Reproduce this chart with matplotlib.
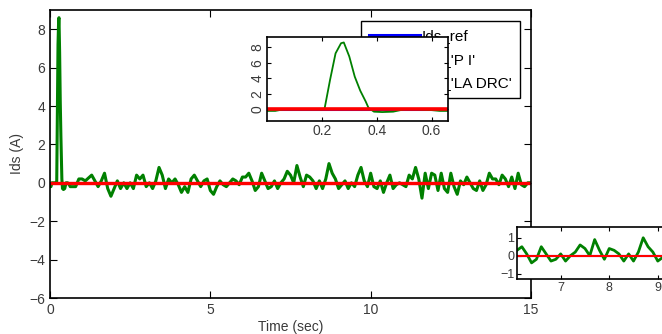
import numpy as np
import matplotlib.pyplot as plt

plt.rcParams['font.family'] = ['Liberation Sans', 'DejaVu Sans']
plt.rcParams['font.size'] = 10

# start-up transient (first 0.7 s)
t_start = [0.0, 0.03, 0.06, 0.1, 0.15, 0.2, 0.21, 0.23, 0.25, 0.27, 0.28,
           0.3, 0.32, 0.34, 0.36, 0.37, 0.39, 0.42, 0.46, 0.5, 0.55, 0.6,
           0.63, 0.66, 0.7]
pi_start = [-0.2, -0.2, 0.0, 0.0, 0.0, 0.0, 0.1, 3.8, 7.2, 8.5, 8.6,
            6.8, 4.2, 2.4, 1.0, 0.2, -0.3, -0.35, -0.3, 0.0, 0.0, -0.1,
            -0.2, -0.2, -0.2]

# PI current after the transient, every 0.1 s from 0.8 s to 15 s
pi_noise = [
    -0.2, 0.2, 0.2, 0.1, 0.25, 0.4, 0.1, -0.2, 0.1, 0.5,
    -0.3, -0.7, -0.3, 0.1, -0.3, 0.0, -0.3, 0.0, -0.3, 0.4,
    0.2, 0.4, -0.2, 0.0, -0.3, 0.1, 0.8, 0.4, -0.3, 0.2,
    0.0, 0.2, -0.1, -0.5, -0.2, -0.5, 0.2, 0.4, 0.1, -0.2,
    0.1, 0.2, -0.4, -0.6, -0.2, 0.1, -0.1, -0.2, 0.0, 0.2,
    0.1, -0.1, 0.3, 0.3, 0.5, 0.1, -0.4, -0.2, 0.5, 0.1,
    -0.3, -0.2, 0.1, -0.3, 0.0, 0.2, 0.6, 0.4, 0.0, 0.9,
    0.3, -0.2, 0.4, 0.3, 0.1, -0.3, 0.1, -0.3, 0.2, 1.0,
    0.5, 0.2, -0.3, -0.1, 0.1, -0.3, 0.0, -0.2, 0.4, 0.8,
    0.1, -0.2, 0.5, -0.2, -0.3, 0.1, -0.5, 0.0, 0.4, -0.3,
    -0.1, 0.0, -0.1, -0.2, 0.4, 0.2, 0.8, 0.2, -0.8, 0.5,
    -0.3, 0.5, 0.4, -0.4, 0.5, -0.3, -0.5, 0.5, -0.2, -0.6,
    0.1, -0.1, 0.3, 0.0, -0.3, -0.4, 0.1, -0.4, -0.1, 0.5,
    0.2, 0.2, -0.1, 0.4, 0.2, -0.2, 0.3, -0.3, 0.5, -0.1,
    -0.2, 0.0, 0.0,
]
t_noise = np.round(np.arange(len(pi_noise)) * 0.1 + 0.8, 2)

t = np.concatenate([t_start, t_noise])
i_pi = np.concatenate([pi_start, pi_noise])
i_ref = np.zeros_like(t)
i_ladrc = np.zeros_like(t)

labels = ["Ids_ref", "Ids_'P I'", "Ids_'LA DRC'"]
c_ref, c_pi, c_ladrc = '#0000ff', '#008000', '#ff0000'
txt = '#3a3a3a'

fig = plt.figure(figsize=(6.62, 3.34), dpi=100)
ax = fig.add_axes([50/662, 1-298/334, 481/662, 288/334])
l1, = ax.plot(t, i_ref, color=c_ref, lw=2.2)
l2, = ax.plot(t, i_pi, color=c_pi, lw=2.2)
l3, = ax.plot(t, i_ladrc, color=c_ladrc, lw=2.4)
ax.set_xlim(0, 15)
ax.set_ylim(-6, 9)
ax.set_xticks([0, 5, 10, 15])
ax.set_yticks([-6, -4, -2, 0, 2, 4, 6, 8])
ax.tick_params(direction='in', top=True, right=True, length=5, colors='k',
               labelcolor=txt, labelsize=10)
ax.set_xlabel('Time (sec)', color=txt, labelpad=2)
ax.set_ylabel('Ids (A)', color=txt, labelpad=4)
for s in ax.spines.values():
    s.set_linewidth(1.2)

ax.legend([l1, l2, l3], labels, loc='upper left',
          bbox_to_anchor=(361/662, 1-21/334), bbox_transform=fig.transFigure,
          borderaxespad=0, fancybox=False, edgecolor='k', framealpha=1,
          handlelength=3.3, handletextpad=0.15, labelspacing=0.6,
          borderpad=0.55, fontsize=11)

# zoom on start-up
ax1 = fig.add_axes([267/662, 1-121/334, 181/662, 84/334])
ax1.plot(t, i_ref, color=c_ref, lw=2.2)
ax1.plot(t, i_pi, color=c_pi, lw=1.3)
ax1.plot(t, i_ladrc, color=c_ladrc, lw=2.6)
ax1.set_xlim(0, 0.66)
ax1.set_ylim(-1.5, 9.3)
ax1.set_xticks([0.2, 0.4, 0.6])
ax1.set_yticks([0, 2, 4, 6, 8])
ax1.tick_params(direction='in', top=True, right=True, length=3,
                labelcolor=txt, labelsize=10, pad=2)
plt.setp(ax1.get_yticklabels(), rotation=90, va='center')
for s in ax1.spines.values():
    s.set_linewidth(1.2)

# zoom on steady state
ax2 = fig.add_axes([517/662, 1-279/334, 183/662, 52/334])
ax2.plot(t, i_ref, color=c_ref, lw=1.5)
ax2.plot(t, i_pi, color=c_pi, lw=2.0)
ax2.plot(t, i_ladrc, color=c_ladrc, lw=1.5)
ax2.set_xlim(6.1, 9.87)
ax2.set_ylim(-1.3, 1.6)
ax2.set_xticks([7, 8, 9])
ax2.set_yticks([-1, 0, 1])
ax2.tick_params(direction='in', top=True, right=True, length=3,
                labelcolor=txt, labelsize=9, pad=2)
for s in ax2.spines.values():
    s.set_linewidth(1.2)

fig.savefig('out.png', dpi=100)
